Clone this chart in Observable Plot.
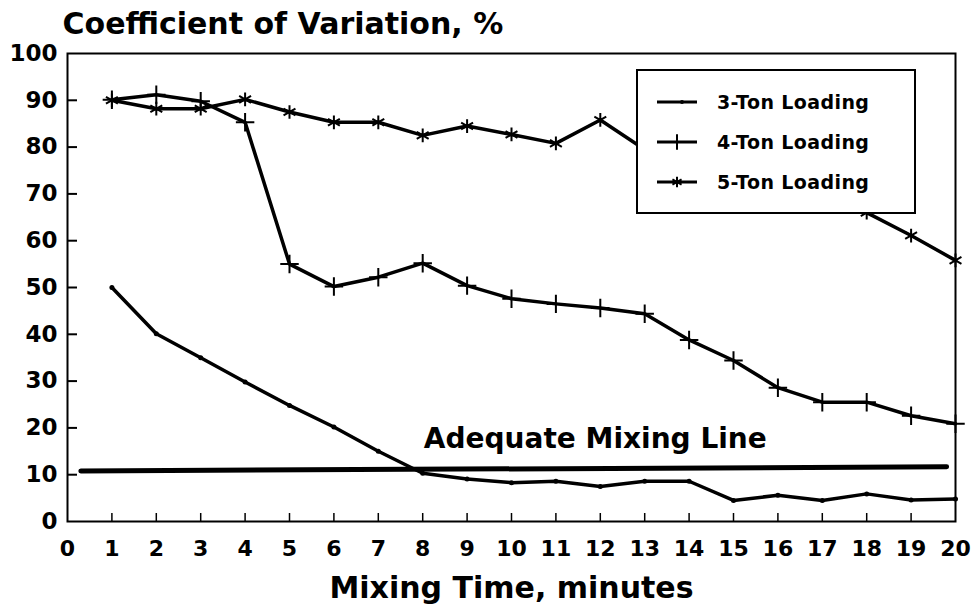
<!DOCTYPE html>
<html>
<head>
<meta charset="utf-8">
<script src="https://cdn.jsdelivr.net/npm/d3@7"></script>
<script src="https://cdn.jsdelivr.net/npm/@observablehq/plot@0.6"></script>
<style>
  body { margin: 0; background: #fff; }
  #wrap { position: relative; width: 972px; height: 610px; }
  #legend {
    position: absolute; left: 636px; top: 69px; width: 280px; height: 145px;
    box-sizing: border-box; border: 2px solid #000; background: #fff;
    font-family: "DejaVu Sans", sans-serif; font-weight: bold; font-size: 19px; color: #000;
  }
  .row { position: absolute; left: 19px; height: 20px; display: flex; align-items: center; }
  .row svg { display: block; }
  .row span { margin-left: 20px; white-space: nowrap; letter-spacing: 0.4px; }
</style>
</head>
<body>
<div id="wrap"></div>
<script>
// ---- data ----
const minutes = [1,2,3,4,5,6,7,8,9,10,11,12,13,14,15,16,17,18,19,20];
const seriesNames = ["3-Ton Loading", "4-Ton Loading", "5-Ton Loading"];
const ton3 = [50, 40.1, 35, 29.8, 24.8, 20.2, 15, 10.3, 9.1, 8.3, 8.6, 7.5, 8.6, 8.6, 4.5, 5.6, 4.5, 5.9, 4.6, 4.8];
const ton4 = [90.1, 91.2, 89.8, 85.3, 55, 50.2, 52.2, 55.2, 50.4, 47.6, 46.5, 45.6, 44.4, 38.8, 34.4, 28.6, 25.5, 25.5, 22.6, 20.9];
const ton5 = [90, 88.2, 88.2, 90.2, 87.5, 85.3, 85.3, 82.5, 84.5, 82.7, 80.8, 85.8, 79.5, 77, 74.5, 72, 69, 66, 61.1, 55.8];
const adequateX = [0.3, 19.8];
const adequateY = [10.8, 11.7];
const adequateLabel = "Adequate Mixing Line";
const xTicks = [0,1,2,3,4,5,6,7,8,9,10,11,12,13,14,15,16,17,18,19,20];
const yTicks = [0,10,20,30,40,50,60,70,80,90,100];
const titleText = "Coefficient of Variation, %";
const xLabelText = "Mixing Time, minutes";

// ---- table ----
const seriesValues = [ton3, ton4, ton5];
const rows = [];
seriesNames.forEach((name, i) => {
  minutes.forEach((m, j) => rows.push({series: name, minute: m, cv: seriesValues[i][j]}));
});
const adequate = adequateX.map((x, i) => ({x, y: adequateY[i]}));
const symbols = {"3-Ton Loading": "circle", "4-Ton Loading": "plus", "5-Ton Loading": "asterisk"};

const W = 972, H = 610, mL = 67, mR = 17, mT = 53, mB = 89;
const innerW = W - mL - mR, innerH = H - mT - mB;
const font = "DejaVu Sans";

const chart = Plot.plot({
  width: W, height: H,
  marginLeft: mL, marginRight: mR, marginTop: mT, marginBottom: mB,
  style: {fontFamily: font, background: "white", color: "black", overflow: "visible"},
  x: {domain: [0, 20]},
  y: {domain: [0, 100]},
  marks: [
    Plot.frame({stroke: "black", strokeWidth: 2}),
    Plot.tickY(yTicks.filter(d => d > 0 && d < 100), {y: d => d, stroke: "black", strokeWidth: 2, insetRight: innerW - 10}),
    Plot.tickX(xTicks.filter(d => d > 0 && d < 20), {x: d => d, stroke: "black", strokeWidth: 1.5, insetTop: innerH - 8}),
    Plot.axisY({ticks: yTicks, tickSize: 0, tickPadding: 10, fontSize: 23, fontWeight: "bold", label: null}),
    Plot.axisX({ticks: xTicks, tickSize: 0, tickPadding: 19, fontSize: 22, fontWeight: "bold", label: null}),
    Plot.line(adequate, {x: "x", y: "y", stroke: "black", strokeWidth: 5}),
    Plot.text([adequateLabel], {x: () => 12, y: () => 11.3, text: d => d, textAnchor: "middle", lineAnchor: "bottom", dy: -21, dx: -5, fontSize: 28, fontWeight: "bold", fill: "black"}),
    Plot.line(rows, {x: "minute", y: "cv", z: "series", stroke: "black", strokeWidth: 3.5}),
    Plot.dot(rows.filter(d => symbols[d.series] === "circle"), {x: "minute", y: "cv", symbol: "circle", r: 2.5, fill: "black"}),
    Plot.dot(rows.filter(d => symbols[d.series] === "plus"), {x: "minute", y: "cv", symbol: "plus", r: 6, stroke: "black", strokeWidth: 2}),
    Plot.dot(rows.filter(d => symbols[d.series] === "asterisk"), {x: "minute", y: "cv", symbol: "asterisk", r: 6.5, stroke: "black", strokeWidth: 2}),
    Plot.text([titleText], {frameAnchor: "top-left", text: d => d, textAnchor: "start", lineAnchor: "bottom", dx: -5, dy: -20, fontSize: 30, fontWeight: "bold", fill: "black"}),
    Plot.text([xLabelText], {frameAnchor: "bottom", text: d => d, textAnchor: "middle", lineAnchor: "bottom", dy: 76, fontSize: 30, fontWeight: "bold", fill: "black"})
  ]
});
const wrap = document.getElementById("wrap");
wrap.appendChild(chart);

// ---- legend ----
const legend = document.createElement("div");
legend.id = "legend";
const rowTops = [21, 61, 101];
seriesNames.forEach((name, i) => {
  const row = document.createElement("div");
  row.className = "row";
  row.style.top = rowTops[i] + "px";
  const svg = d3.create("svg").attr("width", 40).attr("height", 20);
  svg.append("line").attr("x1", 0).attr("x2", 40).attr("y1", 10).attr("y2", 10).attr("stroke", "black").attr("stroke-width", 3);
  const s = symbols[name];
  if (s === "circle") {
    svg.append("circle").attr("cx", 25).attr("cy", 10).attr("r", 2).attr("fill", "black");
  } else {
    const sym = s === "plus" ? d3.symbolPlus : d3.symbolAsterisk;
    svg.append("path").attr("transform", "translate(20,10)").attr("d", d3.symbol(sym, Math.PI * 25)()).attr("stroke", "black").attr("stroke-width", 2).attr("fill", "none");
  }
  row.appendChild(svg.node());
  const span = document.createElement("span");
  span.textContent = name;
  row.appendChild(span);
  legend.appendChild(row);
});
wrap.appendChild(legend);
</script>
</body>
</html>
